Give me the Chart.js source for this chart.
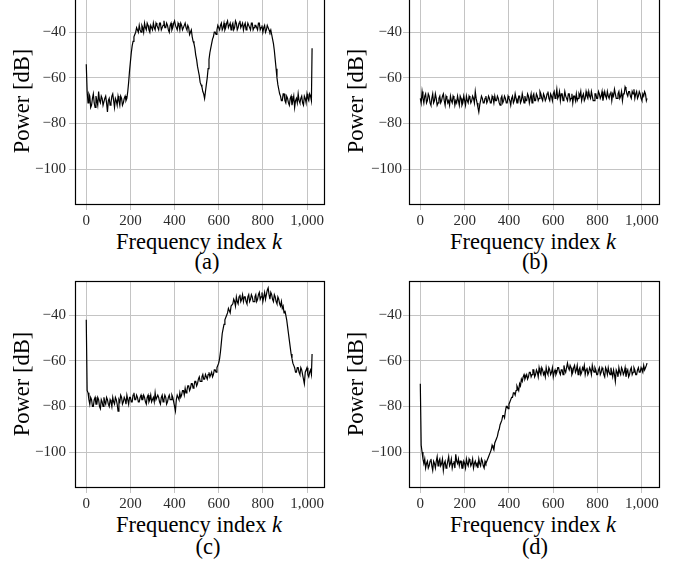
<!DOCTYPE html>
<html>
<head>
<meta charset="utf-8">
<script src="https://cdn.jsdelivr.net/npm/chart.js@4.4.1/dist/chart.umd.min.js"></script>
<style>
body { margin: 0; background: #fff; overflow: hidden; }
#wrap { position: relative; width: 686px; height: 563px; overflow: hidden; font-family: "Liberation Serif", "Times New Roman", serif; }
canvas { position: absolute; }
.xtitle, .cap { position: absolute; width: 300px; text-align: center; font-size: 22.5px; line-height: 22.5px; color: #000; white-space: nowrap; }
</style>
</head>
<body>
<div id="wrap">
  <canvas id="chartA" width="340" height="230" style="left:0px;top:-3px"></canvas>
  <canvas id="chartB" width="346" height="230" style="left:340px;top:-3px"></canvas>
  <canvas id="chartC" width="340" height="230" style="left:0px;top:280px"></canvas>
  <canvas id="chartD" width="346" height="230" style="left:340px;top:280px"></canvas>

  <div class="xtitle" style="left:49px;top:230.5px">Frequency index <i>k</i></div>
  <div class="cap" style="left:57px;top:250.7px">(a)</div>
  <div class="xtitle" style="left:383px;top:230.5px">Frequency index <i>k</i></div>
  <div class="cap" style="left:385px;top:250.7px">(b)</div>
  <div class="xtitle" style="left:49px;top:513.8px">Frequency index <i>k</i></div>
  <div class="cap" style="left:58px;top:535.7px">(c)</div>
  <div class="xtitle" style="left:383px;top:513.8px">Frequency index <i>k</i></div>
  <div class="cap" style="left:385px;top:535.7px">(d)</div>
</div>
<script>
// Frequency index k (every 4th bin, plus the last one) - one row = 64 bins
const freqIndex = [
    0, 4, 8, 12, 16, 20, 24, 28, 32, 36, 40, 44, 48, 52, 56, 60,
    64, 68, 72, 76, 80, 84, 88, 92, 96, 100, 104, 108, 112, 116, 120, 124,
    128, 132, 136, 140, 144, 148, 152, 156, 160, 164, 168, 172, 176, 180, 184, 188,
    192, 196, 200, 204, 208, 212, 216, 220, 224, 228, 232, 236, 240, 244, 248, 252,
    256, 260, 264, 268, 272, 276, 280, 284, 288, 292, 296, 300, 304, 308, 312, 316,
    320, 324, 328, 332, 336, 340, 344, 348, 352, 356, 360, 364, 368, 372, 376, 380,
    384, 388, 392, 396, 400, 404, 408, 412, 416, 420, 424, 428, 432, 436, 440, 444,
    448, 452, 456, 460, 464, 468, 472, 476, 480, 484, 488, 492, 496, 500, 504, 508,
    512, 516, 520, 524, 528, 532, 536, 540, 544, 548, 552, 556, 560, 564, 568, 572,
    576, 580, 584, 588, 592, 596, 600, 604, 608, 612, 616, 620, 624, 628, 632, 636,
    640, 644, 648, 652, 656, 660, 664, 668, 672, 676, 680, 684, 688, 692, 696, 700,
    704, 708, 712, 716, 720, 724, 728, 732, 736, 740, 744, 748, 752, 756, 760, 764,
    768, 772, 776, 780, 784, 788, 792, 796, 800, 804, 808, 812, 816, 820, 824, 828,
    832, 836, 840, 844, 848, 852, 856, 860, 864, 868, 872, 876, 880, 884, 888, 892,
    896, 900, 904, 908, 912, 916, 920, 924, 928, 932, 936, 940, 944, 948, 952, 956,
    960, 964, 968, 972, 976, 980, 984, 988, 992, 996, 1000, 1004, 1008, 1012, 1016, 1020,
    1023
];

// Power [dB], panel (a)
const powerA = [
    -54, -66, -71, -67, -68, -73, -72, -69, -67, -71, -73, -68, -70, -72, -66, -70,
    -71, -68, -69, -72, -72, -69, -68, -71, -75, -70, -69, -72, -71, -68, -67, -70,
    -73, -69, -70, -72, -68, -70, -72, -68, -69, -72, -71, -69, -68, -70, -69, -66,
    -62, -57, -53, -49, -46, -44, -42, -41, -40, -38, -39, -40, -37, -39, -40, -37,
    -38, -40, -36, -38, -39, -36, -37, -39, -40, -37, -38, -39, -36, -38, -39, -36,
    -37, -38, -39, -36, -36, -39, -38, -37, -35, -38, -38, -36, -37, -39, -40, -37,
    -36, -39, -38, -36, -35, -37, -38, -39, -36, -37, -39, -36, -37, -39, -38, -37,
    -36, -38, -39, -37, -38, -41, -40, -39, -42, -44, -45, -47, -50, -52, -55, -57,
    -59, -62, -63, -64, -66, -67, -69, -66, -63, -60, -56, -52, -49, -47, -45, -43,
    -42, -40, -40, -41, -39, -37, -38, -39, -37, -36, -39, -38, -36, -39, -38, -36,
    -35, -38, -37, -36, -39, -37, -36, -39, -38, -35, -36, -39, -38, -36, -35, -38,
    -37, -36, -39, -37, -36, -39, -38, -36, -37, -38, -39, -36, -36, -39, -38, -37,
    -37, -38, -39, -36, -36, -39, -38, -37, -40, -38, -37, -40, -39, -37, -38, -39,
    -40, -39, -41, -43, -45, -48, -52, -56, -60, -63, -65, -67, -68, -70, -70, -67,
    -67, -70, -71, -68, -69, -71, -72, -69, -68, -72, -70, -68, -73, -70, -69, -71,
    -67, -70, -71, -69, -68, -71, -72, -68, -69, -71, -67, -69, -70, -67, -68, -70,
    -47
];

// Power [dB], panel (b)
const powerB = [
    -69, -71, -66, -69, -71, -68, -67, -71, -70, -67, -68, -71, -72, -69, -67, -71,
    -70, -67, -69, -72, -71, -69, -68, -71, -70, -68, -67, -70, -72, -68, -69, -71,
    -70, -72, -68, -70, -71, -68, -69, -72, -70, -71, -68, -70, -72, -68, -69, -72,
    -71, -68, -70, -72, -68, -70, -71, -68, -69, -71, -70, -68, -69, -71, -66, -69,
    -71, -73, -75, -72, -70, -68, -69, -71, -71, -69, -68, -71, -70, -68, -69, -71,
    -71, -68, -69, -71, -68, -70, -70, -68, -69, -71, -72, -69, -68, -71, -70, -68,
    -69, -71, -71, -68, -69, -70, -72, -69, -68, -71, -70, -67, -69, -71, -71, -68,
    -68, -71, -70, -67, -69, -71, -68, -70, -70, -67, -68, -71, -69, -67, -71, -68,
    -67, -70, -70, -67, -68, -70, -69, -66, -67, -69, -70, -67, -68, -70, -69, -67,
    -66, -69, -70, -67, -68, -70, -67, -66, -69, -68, -65, -69, -68, -66, -70, -67,
    -67, -70, -69, -66, -68, -69, -70, -67, -67, -70, -69, -67, -71, -68, -68, -70,
    -67, -70, -69, -67, -68, -66, -70, -68, -67, -70, -69, -66, -68, -69, -66, -68,
    -69, -66, -68, -70, -70, -67, -67, -69, -69, -66, -67, -69, -68, -66, -70, -68,
    -66, -68, -69, -66, -68, -69, -67, -66, -70, -67, -68, -65, -67, -69, -69, -67,
    -66, -69, -68, -66, -70, -67, -67, -64, -65, -67, -68, -66, -66, -68, -69, -66,
    -67, -65, -69, -67, -66, -69, -68, -66, -67, -69, -70, -67, -68, -66, -67, -70,
    -69
];

// Power [dB], panel (c)
const powerC = [
    -42, -73, -74, -77, -79, -76, -77, -80, -80, -77, -76, -79, -79, -76, -77, -80,
    -81, -77, -78, -80, -76, -78, -79, -76, -77, -79, -80, -77, -78, -80, -76, -78,
    -79, -76, -77, -79, -82, -77, -78, -75, -76, -79, -78, -76, -77, -79, -75, -77,
    -79, -76, -76, -78, -78, -75, -74, -77, -77, -75, -76, -78, -78, -76, -75, -77,
    -77, -75, -76, -78, -79, -76, -75, -78, -77, -75, -78, -77, -76, -78, -74, -77,
    -77, -75, -76, -78, -79, -76, -75, -78, -77, -75, -76, -79, -78, -76, -75, -77,
    -77, -75, -76, -78, -80, -82, -77, -75, -76, -77, -74, -76, -75, -73, -73, -75,
    -72, -74, -73, -71, -71, -73, -72, -70, -70, -72, -71, -69, -69, -71, -70, -68,
    -67, -69, -69, -67, -66, -68, -68, -66, -67, -68, -66, -65, -67, -66, -65, -67,
    -66, -64, -64, -65, -63, -62, -61, -59, -56, -52, -48, -46, -44, -42, -41, -40,
    -39, -37, -38, -39, -36, -36, -35, -33, -34, -36, -32, -34, -35, -32, -31, -34,
    -33, -31, -34, -32, -32, -34, -35, -32, -31, -34, -33, -31, -32, -34, -34, -32,
    -31, -34, -33, -31, -30, -33, -32, -30, -34, -32, -30, -33, -31, -29, -28, -31,
    -33, -30, -31, -33, -34, -31, -32, -34, -35, -32, -33, -35, -36, -34, -37, -36,
    -39, -38, -40, -42, -45, -48, -51, -54, -57, -59, -61, -62, -63, -65, -65, -63,
    -63, -65, -66, -63, -64, -66, -68, -70, -65, -64, -63, -66, -67, -65, -64, -66,
    -57
];

// Power [dB], panel (d)
const powerD = [
    -70, -97, -100, -103, -105, -103, -107, -105, -104, -107, -106, -104, -103, -106, -108, -104,
    -105, -107, -104, -102, -106, -104, -103, -106, -105, -103, -108, -105, -104, -107, -106, -104,
    -102, -106, -105, -103, -107, -105, -104, -107, -101, -104, -105, -103, -106, -104, -104, -107,
    -107, -104, -105, -107, -103, -105, -106, -103, -104, -106, -105, -103, -107, -105, -104, -106,
    -105, -107, -103, -105, -106, -103, -104, -106, -107, -104, -105, -104, -103, -102, -101, -100,
    -99, -97, -98, -99, -96, -95, -94, -93, -91, -90, -88, -88, -86, -84, -84, -85,
    -82, -80, -80, -81, -79, -78, -77, -76, -76, -74, -74, -75, -73, -71, -72, -73,
    -70, -71, -68, -69, -67, -66, -68, -67, -66, -68, -67, -65, -65, -67, -66, -64,
    -64, -67, -66, -64, -65, -67, -63, -65, -66, -63, -64, -66, -65, -67, -63, -65,
    -66, -63, -64, -66, -65, -63, -67, -65, -64, -66, -65, -63, -63, -65, -66, -64,
    -64, -66, -62, -64, -65, -63, -61, -63, -64, -62, -63, -66, -65, -63, -62, -65,
    -64, -62, -66, -64, -63, -66, -65, -63, -64, -62, -66, -64, -63, -66, -65, -63,
    -64, -66, -62, -64, -65, -63, -64, -66, -66, -64, -63, -66, -65, -63, -64, -66,
    -67, -63, -64, -66, -63, -65, -66, -63, -65, -67, -64, -66, -69, -64, -65, -67,
    -63, -65, -66, -63, -64, -66, -65, -63, -67, -65, -64, -67, -66, -64, -63, -66,
    -65, -63, -64, -66, -66, -64, -63, -65, -65, -63, -64, -65, -62, -64, -63, -62,
    -61
];

const xTicks = [0, 200, 400, 600, 800, 1000];
const yTicks = [-100, -80, -60, -40];

const serif = 'Liberation Serif';

// Draws the full box around the plot area (like pgfplots)
const framePlugin = {
    id: 'frame',
    afterDraw(chart) {
        const a = chart.chartArea;
        const ctx = chart.ctx;
        ctx.save();
        ctx.strokeStyle = '#000';
        ctx.lineWidth = 1.2;
        ctx.strokeRect(Math.round(a.left) + 0.5, Math.round(a.top) + 0.5,
            Math.round(a.right) - Math.round(a.left), Math.round(a.bottom) - Math.round(a.top));
        ctx.restore();
    }
};

function makeChart(id, values, yAxisWidth, rightPad, yTickPad, yTitlePad) {
    const points = values.map((v, i) => ({ x: freqIndex[i], y: v }));

    return new Chart(id, {
        type: 'line',
        data: {
            datasets: [{
                data: points,
                borderColor: '#000',
                borderWidth: 1.2,
                pointRadius: 0,
                tension: 0,
                fill: false
            }]
        },
        options: {
            responsive: false,
            animation: false,
            events: [],
            layout: { padding: { left: 0, top: 1, right: rightPad, bottom: 0 } },
            plugins: { legend: { display: false }, tooltip: { enabled: false } },
            scales: {
                x: {
                    type: 'linear',
                    min: -51,
                    max: 1077,
                    afterBuildTicks: s => { s.ticks = xTicks.map(v => ({ value: v })); },
                    // fixed axis height, no extra side padding from labels
                    afterFit: s => { s.height = 23; s.paddingLeft = 0; s.paddingRight = 0; },
                    grid: { color: '#c4c4c4', lineWidth: 1, tickLength: 6 },
                    border: { display: false },
                    ticks: {
                        autoSkip: false,
                        maxRotation: 0,
                        padding: 2,
                        color: '#2b2b2b',
                        font: { family: serif, size: 15 },
                        callback: v => v.toLocaleString('en-US')
                    }
                },
                y: {
                    min: -115.3,
                    max: -25,
                    afterBuildTicks: s => { s.ticks = yTicks.map(v => ({ value: v })); },
                    afterFit: s => { s.width = yAxisWidth; s.paddingTop = 0; s.paddingBottom = 0; },
                    grid: { color: '#c4c4c4', lineWidth: 1, tickLength: 6 },
                    border: { display: false },
                    ticks: {
                        autoSkip: false,
                        padding: yTickPad,
                        color: '#2b2b2b',
                        font: { family: serif, size: 15 },
                        callback: v => (v < 0 ? '\u2212' + Math.abs(v) : String(v))
                    },
                    title: {
                        display: true,
                        text: 'Power [dB]',
                        color: '#000',
                        font: { family: serif, size: 22.5 },
                        padding: { top: yTitlePad, bottom: 0 }
                    }
                }
            }
        },
        plugins: [framePlugin]
    });
}

makeChart('chartA', powerA, 75, 16, 3, 10);
makeChart('chartB', powerB, 69, 27, 1, 4);
makeChart('chartC', powerC, 75, 16, 3, 10);
makeChart('chartD', powerD, 69, 27, 1, 4);
</script>
</body>
</html>
